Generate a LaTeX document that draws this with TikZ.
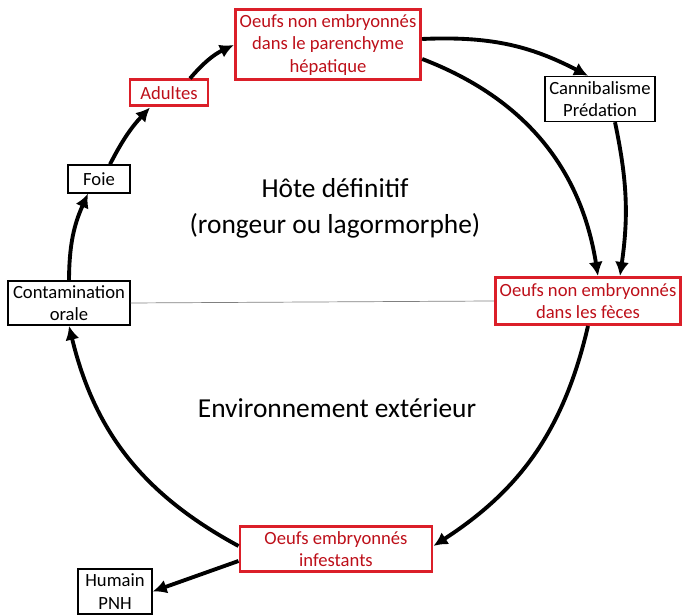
\documentclass[tikz,border=0pt]{standalone}
\usepackage{fontspec}
\setmainfont{Carlito}
\usepackage{xcolor}
\usetikzlibrary{arrows.meta,positioning}
\definecolor{boxred}{rgb}{0.86,0.12,0.16}
\definecolor{textred}{rgb}{0.74,0.06,0.10}

\begin{document}
\begin{tikzpicture}[font=\fontsize{10.6}{12.8}\selectfont,
  b/.style={draw,line width=0.8pt,align=center,inner sep=2.5pt},
  r/.style={draw=boxred,line width=1.7pt,align=center,text=textred,inner sep=2.5pt},
  a/.style={line width=2.2pt,-{Latex[length=2.8mm,width=2.8mm]}}]
\useasboundingbox (0,0) rectangle (13.64,12.3);
\node[r,minimum width=3.6cm,minimum height=1.4cm] (top) at (6.56,11.4) {Oeufs non embryonnés\\dans le parenchyme\\hépatique};
\node[r,minimum width=1.56cm,minimum height=0.52cm] (adult) at (3.38,10.44) {Adultes};
\node[b,minimum width=1.24cm,minimum height=0.56cm] (foie) at (1.98,8.72) {Foie};
\node[b,minimum width=2.44cm,minimum height=0.8cm] (contam) at (1.38,6.24) {Contamination\\orale};
\node[b,minimum width=1.9cm,minimum height=0.9cm] (cannib) at (12.0,10.32) {Cannibalisme\\Prédation};
\node[r,minimum width=3.66cm,minimum height=0.94cm] (feces) at (11.76,6.28) {Oeufs non embryonnés\\dans les fèces};
\node[r,minimum width=3.84cm,minimum height=0.9cm] (infest) at (6.72,1.32) {Oeufs embryonnés\\infestants};
\node[b,minimum width=1.48cm,minimum height=0.9cm] (humain) at (2.3,0.47) {Humain\\PNH};
\node[align=center,font=\fontsize{15.6}{20.5}\selectfont] (hote) at (6.7,8.14) {Hôte définitif\\(rongeur ou lagormorphe)};
\node[font=\fontsize{15.6}{20.5}\selectfont] (env) at (6.74,4.14) {Environnement extérieur};
\draw[gray,line width=0.4pt] (contam.east) -- (feces.west);
\draw[a] (contam.north) to[bend left=12] ([xshift=-0.22cm]foie.south);
\draw[a] ([xshift=0.22cm]foie.north) to[bend left=8] ([xshift=-0.38cm]adult.south);
\draw[a] ([xshift=0.42cm]adult.north) to[bend left=12] (top.west);
\draw[a] ([yshift=0.85cm]top.south east) to[bend left=15] ([xshift=-0.24cm]cannib.north);
\draw[a] ([yshift=0.45cm]top.south east) to[bend left=30] ([xshift=0.2cm]feces.north);
\draw[a] ([xshift=0.3cm]cannib.south) to[bend left=10] ([xshift=0.64cm]feces.north);
\draw[a] (feces.south) to[bend left=22] ([yshift=0.06cm]infest.east);
\draw[a] ([yshift=0.06cm]infest.west) to[bend left=24] (contam.south);
\draw[a] ([yshift=-0.24cm]infest.west) -- (humain.east);
\end{tikzpicture}
\end{document}
